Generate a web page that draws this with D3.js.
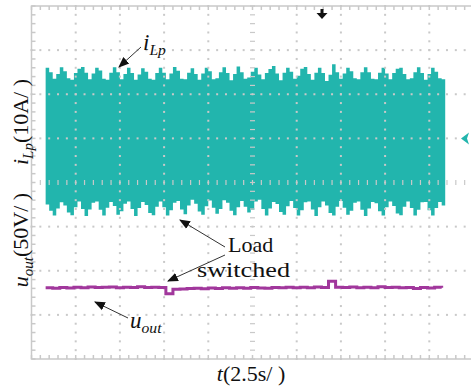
<!DOCTYPE html>
<html>
<head>
<meta charset="utf-8">
<script src="https://cdn.jsdelivr.net/npm/d3@7"></script>
<style>
  html, body { margin: 0; padding: 0; background: #fff; }
  svg { display: block; }
  text { font-family: "Liberation Serif", "Times New Roman", "DejaVu Serif", serif; }
</style>
</head>
<body>
<svg id="chart" width="471" height="386"></svg>
<script>
// scope settings: 2.5 s/div, 10 A/div (i_Lp), 50 V/div (u_out)
const tStart = 0.8;      // first sample time, s
const tStep = 0.2;       // envelope sample spacing, s
const uStep = 0.4;       // u_out sample spacing, s

// upper envelope of i_Lp (A)
const iTopEnv = [
  16.0, 15.0, 13.5, 14.6, 16.1, 15.2, 13.6, 13.3, 14.8, 15.8,
  16.2, 14.9, 13.4, 14.7, 16.0, 15.4, 13.5, 13.3, 14.9, 16.1,
  15.0, 13.4, 14.6, 16.0, 14.8, 13.3, 14.5, 15.9, 15.1, 13.5,
  13.3, 14.8, 16.0, 14.9, 13.4, 14.7, 16.2, 15.3, 13.5, 13.4,
  14.9, 15.9, 14.6, 13.3, 14.7, 16.0, 15.2, 13.4, 13.6, 15.0,
  16.1, 14.8, 13.2, 14.6, 16.3, 15.0, 13.5, 13.8, 15.1, 16.0,
  14.5, 13.4, 14.8, 15.7, 16.4, 14.7, 13.2, 14.9, 16.0, 15.1,
  13.5, 14.2, 15.8, 16.2, 14.6, 13.3, 14.9, 16.0, 14.8, 13.0,
  14.4, 16.8, 15.0, 13.5, 14.7, 16.0, 15.2, 13.6, 13.4, 15.0,
  16.1, 15.0, 13.5, 13.4, 14.9, 16.0, 14.7, 13.4, 14.8, 15.8,
  16.0, 14.6, 13.4, 13.6, 15.0, 16.1, 14.8, 13.3, 14.6, 16.0,
  15.1, 13.6, 13.4, 13.2
];

// lower envelope of i_Lp (A)
const iBotEnv = [
  -15.0, -16.4, -17.5, -15.9, -14.5, -15.2, -16.8, -17.4, -15.6, -14.3,
  -16.0, -17.6, -16.1, -14.6, -14.3, -16.2, -17.5, -15.7, -14.4, -15.3,
  -17.3, -16.5, -14.8, -14.3, -16.0, -17.6, -15.8, -14.4, -15.1, -16.9,
  -17.4, -15.5, -14.3, -15.6, -17.5, -16.3, -14.6, -14.2, -16.1, -17.2,
  -15.2, -13.9, -14.8, -16.6, -17.3, -15.4, -14.1, -15.7, -17.1, -16.0,
  -14.0, -14.6, -16.4, -17.4, -15.6, -14.2, -15.5, -16.8, -16.2, -14.3,
  -13.9, -16.0, -17.5, -15.9, -14.4, -14.9, -16.7, -17.3, -15.4, -14.2,
  -15.8, -17.5, -16.3, -14.5, -14.3, -16.1, -17.6, -15.6, -14.3, -15.2,
  -16.9, -17.5, -15.5, -14.2, -15.7, -17.3, -16.4, -14.6, -14.3, -16.2,
  -17.6, -15.9, -14.4, -14.7, -16.5, -17.5, -15.6, -14.3, -15.3, -17.0,
  -17.4, -15.5, -14.3, -15.8, -17.5, -16.2, -14.5, -14.4, -16.3, -17.5,
  -15.8, -14.4, -15.2, -16.4
];

// output voltage (V)
const uOut = [
  80.6, 80.3, 81.0, 80.5, 81.3, 80.8, 81.5, 80.9, 81.2, 81.6,
  80.7, 81.4, 81.0, 81.8, 80.9, 81.3, 81.1, 74.0, 79.0, 79.4,
  79.8, 80.2, 79.6, 80.4, 79.9, 80.6, 80.1, 80.8, 80.3, 81.0,
  80.5, 80.2, 81.1, 80.6, 81.4, 80.7, 81.2, 80.6, 81.5, 81.0,
  88.0, 81.3, 80.9, 81.6, 80.8, 81.2, 80.6, 81.8, 80.9, 81.3,
  80.7, 81.1, 79.8, 81.0, 80.5, 81.2, 80.8
];

const xDivs = 10, yDivs = 8;
const serif = '"Liberation Serif", "Times New Roman", serif';

const svg = d3.select('#chart');
const plotLeft = 31.5, plotTop = 6, divW = 44.2, divH = 44.125;
const plotRight = plotLeft + xDivs * divW, plotBottom = plotTop + yDivs * divH;

const x = d3.scaleLinear().domain([0, 25]).range([plotLeft, plotRight]);
const yI = d3.scaleLinear().domain([-50, 30]).range([plotBottom, plotTop]);
const yU = d3.scaleLinear().domain([0, 400]).range([plotBottom, plotTop]);

const iData = iTopEnv.map((v, k) => ({ t: tStart + k * tStep, hi: v, lo: iBotEnv[k] }));
const uData = uOut.map((v, k) => ({ t: tStart + k * uStep, u: v }));

const teal = '#22b5ad', purple = '#a1379c', gridCol = '#c9c9c9';

// teal waveform (dense switching ripple drawn as its envelope)
svg.append('path')
  .datum(iData)
  .attr('fill', teal)
  .attr('d', d3.area()
    .x(d => x(d.t))
    .y0(d => yI(d.lo))
    .y1(d => yI(d.hi))
    .curve(d3.curveStepAfter));

// grid
const g = svg.append('g');
const minorX = d3.range(0, 25.001, 0.5);
const minorY = d3.range(0, yDivs * 5 + 0.001, 1).map(j => plotTop + j * divH / 5);

// dotted major lines, centre lines get small ticks
for (let i = 1; i < xDivs; i++) {
  const xx = plotLeft + i * divW;
  minorY.forEach(yy => {
    if (i === 5) {
      g.append('rect').attr('x', xx - 2.5).attr('y', yy - 0.6).attr('width', 5).attr('height', 1.2).attr('fill', gridCol);
    } else {
      g.append('rect').attr('x', xx - 1).attr('y', yy - 1).attr('width', 2).attr('height', 2).attr('fill', gridCol);
    }
  });
}
for (let j = 1; j < yDivs; j++) {
  const yy = plotTop + j * divH;
  minorX.forEach(t => {
    const xx = x(t);
    if (j === 4) {
      g.append('rect').attr('x', xx - 0.6).attr('y', yy - 2.5).attr('width', 1.2).attr('height', 5).attr('fill', gridCol);
    } else {
      g.append('rect').attr('x', xx - 1).attr('y', yy - 1).attr('width', 2).attr('height', 2).attr('fill', gridCol);
    }
  });
}

// frame with inner ticks
g.append('rect')
  .attr('x', plotLeft).attr('y', plotTop)
  .attr('width', plotRight - plotLeft).attr('height', plotBottom - plotTop)
  .attr('fill', 'none').attr('stroke', gridCol).attr('stroke-width', 1.5);
minorX.forEach(t => {
  g.append('line').attr('x1', x(t)).attr('x2', x(t)).attr('y1', plotTop).attr('y2', plotTop + 4).attr('stroke', gridCol).attr('stroke-width', 1.5);
  g.append('line').attr('x1', x(t)).attr('x2', x(t)).attr('y1', plotBottom).attr('y2', plotBottom - 4).attr('stroke', gridCol).attr('stroke-width', 1.5);
});
minorY.forEach(yy => {
  g.append('line').attr('x1', plotLeft).attr('x2', plotLeft + 4).attr('y1', yy).attr('y2', yy).attr('stroke', gridCol).attr('stroke-width', 1.5);
});

// output voltage trace
svg.append('path')
  .datum(uData)
  .attr('fill', 'none')
  .attr('stroke', purple)
  .attr('stroke-width', 3)
  .attr('d', d3.line().x(d => x(d.t)).y(d => yU(d.u)).curve(d3.curveStepAfter));

// trigger marker (top) and channel zero marker (right)
svg.append('path')
  .attr('d', 'M320.5,9 h3 v4 h4 l-5.5,6 l-5.5,-6 h4 z')
  .attr('fill', '#111');
svg.append('path')
  .attr('d', `M461,${yI(0)} l8,-6 l-2,6 l2,6 z`)
  .attr('fill', teal);

// arrows
const defs = svg.append('defs');
defs.append('marker')
  .attr('id', 'ah').attr('viewBox', '0 0 10 10')
  .attr('refX', 9).attr('refY', 5)
  .attr('markerWidth', 11).attr('markerHeight', 11)
  .attr('markerUnits', 'userSpaceOnUse')
  .attr('orient', 'auto')
  .append('path').attr('d', 'M0,1 L10,5 L0,9 z').attr('fill', '#111');

const arrows = [
  [141, 47, 119, 67],
  [225, 247, 180, 220],
  [225, 255, 168, 281],
  [128, 318, 95, 302]
];
arrows.forEach(a => {
  svg.append('line')
    .attr('x1', a[0]).attr('y1', a[1]).attr('x2', a[2]).attr('y2', a[3])
    .attr('stroke', '#333').attr('stroke-width', 1)
    .attr('marker-end', 'url(#ah)');
});

// trace labels
function subLabel(xp, yp, main, sub, size, rest) {
  const t = svg.append('text').attr('x', xp).attr('y', yp)
    .attr('font-family', serif).attr('font-size', size).attr('fill', '#111');
  t.append('tspan').attr('font-style', 'italic').text(main);
  t.append('tspan').attr('font-style', 'italic').attr('font-size', size * 0.68).attr('dy', size * 0.22).text(sub);
  if (rest) t.append('tspan').attr('dy', -size * 0.22).text(rest);
  return t;
}
subLabel(143, 50, 'i', 'Lp', 23);
subLabel(130, 328, 'u', 'out', 23);

svg.append('text').attr('x', 228).attr('y', 252).attr('font-family', serif).attr('font-size', 22).attr('fill', '#111').text('Load');
svg.append('text').attr('x', 197).attr('y', 277).attr('font-family', serif).attr('font-size', 22).attr('fill', '#111')
  .attr('textLength', 93).attr('lengthAdjust', 'spacingAndGlyphs').text('switched');

// axis titles
const xt = svg.append('text').attr('x', 251).attr('y', 381).attr('text-anchor', 'middle')
  .attr('font-family', serif).attr('font-size', 22).attr('fill', '#111');
xt.append('tspan').attr('font-style', 'italic').text('t');
xt.append('tspan').text('(2.5s/ )');

subLabel(0, 0, 'i', 'Lp', 22, '(10A/ )')
  .attr('text-anchor', 'middle')
  .attr('transform', 'translate(28,122) rotate(-90)');
subLabel(0, 0, 'u', 'out', 22, '(50V/ )')
  .attr('text-anchor', 'middle')
  .attr('transform', 'translate(28,240) rotate(-90)');
</script>
</body>
</html>
